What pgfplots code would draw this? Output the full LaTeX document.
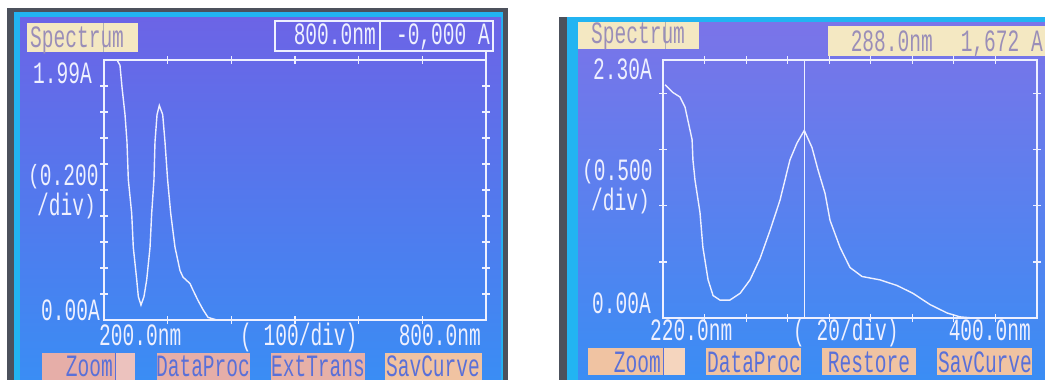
\documentclass[border=0pt]{standalone}
\usepackage{graphicx}
\usepackage{pgfplots}
\pgfplotsset{compat=1.18}
\usepackage{fontspec}
\setmainfont{Liberation Sans}
\newfontfamily\lcd[FakeStretch=0.63]{Liberation Mono}
\newcommand\lcdfont{\lcd\fontsize{31}{34}\selectfont}
\newcommand\lp{\raisebox{2pt}{\scalebox{1}[0.85]{(}}}
\newcommand\rp{\raisebox{2pt}{\scalebox{1}[0.85]{)}}}
\definecolor{scrtop}{HTML}{6C64E6}
\definecolor{scrmid}{HTML}{4A7CEF}
\definecolor{scrbot}{HTML}{3A8DF4}
\definecolor{cyanb}{HTML}{22B4F2}
\definecolor{frame}{HTML}{4C515C}
\definecolor{lcdw}{HTML}{EEF0FF}
\definecolor{cream}{HTML}{F4E8C2}
\definecolor{spectxt}{HTML}{9A8EB8}
\definecolor{btnpink}{HTML}{E6AEA8}
\definecolor{btnpeach}{HTML}{F0C3A2}
\definecolor{btntxt}{HTML}{5A70D8}
\begin{document}
\begin{tikzpicture}[x=1pt,y=1pt]
\useasboundingbox (0,0) rectangle (1045,-380);
\fill[white] (0,0) rectangle (1045,-380);
% ---------- left device ----------
\fill[frame] (7,-8) rectangle (508,-380);
\fill[cyanb] (14,-12) rectangle (503,-380);
\shade[top color=scrtop, middle color=scrmid, bottom color=scrbot] (20,-17) rectangle (501,-380);
% ---------- right device ----------
\fill[frame] (559,-17) rectangle (1045,-380);
\fill[cyanb] (567,-17) rectangle (1045,-380);
\shade[top color=scrtop!90!white, middle color=scrmid, bottom color=scrbot] (578,-22) rectangle (1045,-380);

% ---------- left panel decorations ----------
\fill[cream] (27,-23) rectangle (138,-52);
\draw[black!30, line width=0.8pt] (103,-23) -- (103,-52);
\node[anchor=base west, inner sep=0, text=spectxt, font=\lcdfont] at (30,-47) {Spectrum};
\draw[lcdw, line width=1.2pt] (275,-21) rectangle (493,-51);
\draw[lcdw, line width=1.2pt] (380,-21) -- (380,-51);
\draw[lcdw, line width=1.2pt] (486,-51) -- (486,-60);
\node[anchor=base east, inner sep=0, text=lcdw, font=\lcdfont] at (376,-45) {800.0nm};
\node[anchor=base east, inner sep=0, text=lcdw, font=\lcdfont] at (490,-45) {-0,000 A};
\node[anchor=base east, inner sep=0, text=lcdw, font=\lcdfont] at (92,-83) {1.99A};
\node[anchor=base west, inner sep=0, text=lcdw, font=\lcdfont] at (28,-185) {\lp0.200};
\node[anchor=base west, inner sep=0, text=lcdw, font=\lcdfont] at (37,-215) {/div\rp};
\node[anchor=base east, inner sep=0, text=lcdw, font=\lcdfont] at (100,-320) {0.00A};
\node[anchor=base west, inner sep=0, text=lcdw, font=\lcdfont] at (99,-345) {200.0nm};
\node[anchor=base west, inner sep=0, text=lcdw, font=\lcdfont] at (240,-345) {( 100/div)};
\node[anchor=base east, inner sep=0, text=lcdw, font=\lcdfont] at (481,-345) {800.0nm};
% buttons
\fill[btnpink] (42,-353) rectangle (135,-380);
\fill[btnpink!75!white] (115,-353) rectangle (135,-380);
\draw[btntxt, line width=0.8pt] (115,-353) -- (115,-380);
\fill[btnpink] (157,-353) rectangle (250,-380);
\fill[btnpink!90!btnpeach] (271,-353) rectangle (365,-380);
\fill[btnpeach] (385,-353) rectangle (482,-380);
\node[anchor=base east, inner sep=0, text=btntxt, font=\lcdfont] at (113,-376) {Zoom};
\node[anchor=base, inner sep=0, text=btntxt, font=\lcdfont] at (203,-376) {DataProc};
\node[anchor=base, inner sep=0, text=btntxt, font=\lcdfont] at (318,-376) {ExtTrans};
\node[anchor=base, inner sep=0, text=btntxt, font=\lcdfont] at (433,-376) {SavCurve};

% ---------- right panel decorations ----------
\fill[cream] (578,-22) rectangle (699,-49);
\draw[black!30, line width=0.8pt] (665,-22) -- (665,-49);
\node[anchor=base west, inner sep=0, text=spectxt, font=\lcdfont] at (591,-43) {Spectrum};
\fill[cream] (828,-26) rectangle (1045,-56);
\node[anchor=base east, inner sep=0, text=spectxt, font=\lcdfont] at (933,-51) {288.0nm};
\node[anchor=base east, inner sep=0, text=spectxt, font=\lcdfont] at (1043,-51) {1,672 A};
\node[anchor=base east, inner sep=0, text=lcdw, font=\lcdfont] at (652,-79) {2.30A};
\node[anchor=base west, inner sep=0, text=lcdw, font=\lcdfont] at (582,-180) {\lp0.500};
\node[anchor=base west, inner sep=0, text=lcdw, font=\lcdfont] at (591,-210) {/div\rp};
\node[anchor=base east, inner sep=0, text=lcdw, font=\lcdfont] at (651,-313) {0.00A};
\node[anchor=base west, inner sep=0, text=lcdw, font=\lcdfont] at (650,-340) {220.0nm};
\node[anchor=base west, inner sep=0, text=lcdw, font=\lcdfont] at (793,-340) {( 20/div)};
\node[anchor=base east, inner sep=0, text=lcdw, font=\lcdfont] at (1031,-340) {400.0nm};
\fill[btnpeach] (588,-348) rectangle (685,-375);
\fill[btnpeach!70!white] (663,-348) rectangle (685,-375);
\draw[btntxt, line width=0.8pt] (663,-348) -- (663,-375);
\fill[btnpeach] (706,-348) rectangle (801,-375);
\fill[btnpeach] (822,-348) rectangle (916,-375);
\fill[btnpeach] (937,-348) rectangle (1032,-375);
\node[anchor=base east, inner sep=0, text=btntxt, font=\lcdfont] at (661,-372) {Zoom};
\node[anchor=base, inner sep=0, text=btntxt, font=\lcdfont] at (754,-372) {DataProc};
\node[anchor=base, inner sep=0, text=btntxt, font=\lcdfont] at (869,-372) {Restore};
\node[anchor=base, inner sep=0, text=btntxt, font=\lcdfont] at (985,-372) {SavCurve};

% ---------- left axis: 200-800 nm ----------
\begin{axis}[at={(104pt,-320pt)}, anchor=south west, scale only axis,
  width=382pt, height=260pt,
  xmin=200, xmax=800, ymin=0, ymax=2.0,
  xtick={300,400,500,600,700}, ytick={0.2,0.4,0.6,0.8,1.0,1.2,1.4,1.6,1.8},
  xticklabels={}, yticklabels={},
  tick align=center, major tick length=8pt,
  axis line style={draw=lcdw, line width=1.3pt},
  tick style={draw=lcdw, line width=1.2pt}]
\addplot[lcdw, line width=1.4pt, mark=none] coordinates {
(200,2.0) (220.4,2.0) (225.1,1.96) (228.3,1.79) (233.0,1.58) (236.1,1.37)
(238.2,1.08) (243.5,0.82) (246.0,0.56) (251.4,0.31) (253.9,0.18) (258.1,0.115)
(262.8,0.18) (267.1,0.31) (272.3,0.56) (274.9,0.82) (278.5,1.08) (280.1,1.37)
(283.3,1.58) (286.9,1.65) (292.2,1.58) (295.8,1.37) (299.9,1.08) (304.8,0.82)
(311.5,0.56) (319.4,0.38) (324.1,0.33) (335.1,0.28) (339.8,0.23) (347.7,0.15)
(355.5,0.08) (363.4,0.02) (377.5,0.0) (800,0.0)};
\end{axis}

% ---------- right axis: 220-400 nm ----------
\begin{axis}[at={(663pt,-318pt)}, anchor=south west, scale only axis,
  width=374pt, height=258pt,
  xmin=220, xmax=400, ymin=0, ymax=2.3,
  xtick={240,260,280,300,320,340,360,380}, ytick={0.5,1.0,1.5,2.0},
  xticklabels={}, yticklabels={},
  tick align=center, major tick length=8pt,
  axis line style={draw=lcdw, line width=1.3pt},
  tick style={draw=lcdw, line width=1.2pt}]
\addplot[lcdw, line width=1.4pt, mark=none] coordinates {
(221.0,2.08) (224.8,2.01) (228.2,1.97) (230.6,1.88) (232.0,1.76) (234.0,1.59)
(234.4,1.41) (235.4,1.23) (237.8,0.94) (239.2,0.63) (241.7,0.34) (244.1,0.20)
(247.4,0.16) (252.2,0.16) (257.1,0.22) (261.9,0.34) (266.7,0.53) (271.5,0.78)
(276.3,1.05) (281.1,1.41) (284.5,1.56) (288.0,1.672) (291.7,1.52) (294.6,1.32)
(298.0,1.11) (300.4,0.87) (305.2,0.63) (310.0,0.45) (315.8,0.37) (324.4,0.34)
(332.6,0.29) (340.3,0.22) (348.5,0.12) (356.7,0.045) (362.9,0.01) (369.2,0.0)
(400,0.0)};
\addplot[lcdw, line width=1.2pt, mark=none] coordinates {(288,0) (288,2.3)};
\end{axis}
\end{tikzpicture}
\end{document}
